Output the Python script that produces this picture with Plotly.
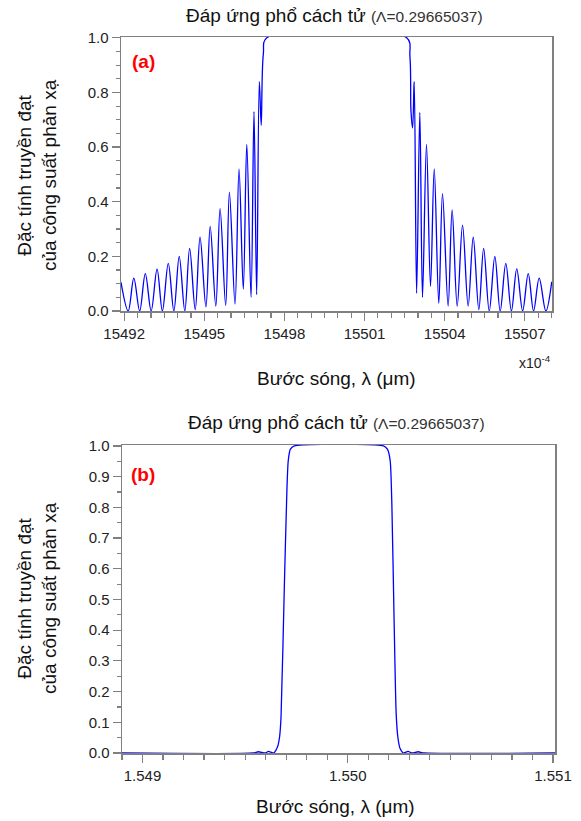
import plotly.graph_objects as go

# ---------------- data ----------------
# Panel (a): wavelength in units of 1e-4 um, reflectance
wl_a = [15491.88, 15492.15, 15492.36, 15492.58, 15492.79, 15493.01, 15493.23, 15493.43,
        15493.65, 15493.86, 15494.06, 15494.27, 15494.45, 15494.66, 15494.84, 15495.06,
        15495.22, 15495.43, 15495.59, 15495.80, 15495.94, 15496.15, 15496.30, 15496.46,
        15496.59, 15496.75, 15496.86, 15496.96, 15497.06, 15497.13, 15497.21, 15497.34,
        15502.58, 15502.70, 15502.74, 15502.80, 15502.86, 15502.95, 15503.07, 15503.17,
        15503.32, 15503.47, 15503.61, 15503.78, 15503.92, 15504.13, 15504.28, 15504.47,
        15504.67, 15504.88, 15505.07, 15505.28, 15505.46, 15505.67, 15505.88, 15506.08,
        15506.29, 15506.50, 15506.70, 15506.92, 15507.13, 15507.33, 15507.54, 15507.79,
        15508.01]
r_a = [0.105, 0.0, 0.12, 0.0, 0.137, 0.0, 0.153, 0.0,
       0.174, 0.0, 0.20, 0.0, 0.229, 0.005, 0.27, 0.015,
       0.31, 0.018, 0.375, 0.02, 0.435, 0.025, 0.52, 0.08,
       0.61, 0.05, 0.73, 0.06, 0.84, 0.68, 0.94, 1.0,
       1.0, 0.93, 0.73, 0.67, 0.84, 0.065, 0.727, 0.05,
       0.61, 0.09, 0.52, 0.028, 0.43, 0.018, 0.37, 0.018,
       0.314, 0.018, 0.27, 0.005, 0.229, 0.0, 0.2, 0.0,
       0.174, 0.0, 0.154, 0.0, 0.137, 0.0, 0.12, 0.0,
       0.107]
ticks_a = [15492, 15495, 15498, 15501, 15504, 15507]

# Panel (b): wavelength in um, reflectance
wl_b = [1.548900, 1.549540, 1.549564, 1.549599, 1.549613, 1.549639,
        1.549658, 1.549668, 1.549675, 1.549691, 1.549704, 1.549710, 1.549720, 1.549740,
        1.550174, 1.550194, 1.550207, 1.550215, 1.550226, 1.550236, 1.550244, 1.550255, 1.550272,
        1.550294, 1.550314, 1.550343, 1.550372, 1.551010]
r_b = [0, 0, 0.004, 0, 0.005, 0,
       0.02, 0.053, 0.118, 0.54, 0.865, 0.951, 0.989, 1.0,
       1.0, 0.989, 0.951, 0.81, 0.43, 0.129, 0.053, 0.015, 0,
       0.005, 0, 0.004, 0, 0]
ticks_b = [1.549, 1.550, 1.551]
ticktext_b = ["1.549", "1.550", "1.551"]

title_txt = 'Đáp ứng phổ cách tử <span style="font-size:15.5px;color:#333">(Λ=0.29665037)</span>'
xtitle_txt = "Bước sóng, λ (μm)"
ytitle_txt = "Đặc tính truyền đạt<br>của công suất phản xạ"

# ---------------- figure ----------------
W, H = 581, 821
FONT = "Liberation Sans, Arial, sans-serif"
AX = "#808080"
BLUE = "#0000ff"

def px(x):
    return x / W

def py(y):
    return 1 - y / H

fig = go.Figure()
fig.add_trace(go.Scatter(x=wl_a, y=r_a, mode="lines", xaxis="x", yaxis="y",
                         line=dict(color=BLUE, width=1.3, shape="spline", smoothing=1.0),
                         showlegend=False, hoverinfo="skip"))
fig.add_trace(go.Scatter(x=wl_b, y=r_b, mode="lines", xaxis="x2", yaxis="y2",
                         line=dict(color=BLUE, width=1.3, shape="spline", smoothing=0.6),
                         showlegend=False, hoverinfo="skip"))

axis_common = dict(showline=True, linecolor=AX, linewidth=1.5, mirror=True,
                   showgrid=False, zeroline=False, ticks="outside", ticklen=8,
                   tickwidth=1.2, tickcolor=AX, automargin=False,
                   tickfont=dict(family=FONT, size=15, color="#222"))

fig.update_layout(
    template="none",
    width=W, height=H, margin=dict(l=0, r=0, t=0, b=0, autoexpand=False),
    paper_bgcolor="white", plot_bgcolor="white",
    xaxis=dict(domain=[px(121), px(552)], anchor="y",
               range=[15491.88, 15508.02], tickmode="array", tickvals=ticks_a,
               ticktext=[str(t) for t in ticks_a],
               minor=dict(dtick=0.5, tick0=15492, ticks="outside", ticklen=5,
                          tickcolor=AX, tickwidth=1.2, showgrid=False),
               **axis_common),
    yaxis=dict(domain=[py(311), py(37)], anchor="x",
               range=[0, 1.003], dtick=0.2, tick0=0, tickformat=".1f",
               minor=dict(dtick=0.05, tick0=0, ticks="outside", ticklen=4,
                          tickcolor=AX, tickwidth=1.2, showgrid=False),
               **axis_common),
    xaxis2=dict(domain=[px(122), px(555)], anchor="y2",
                range=[1.5489, 1.55101], tickmode="array", tickvals=ticks_b,
                ticktext=ticktext_b,
                minor=dict(dtick=0.0001, tick0=1.549, ticks="outside", ticklen=5,
                           tickcolor=AX, tickwidth=1.2, showgrid=False),
                **axis_common),
    yaxis2=dict(domain=[py(753), py(445)], anchor="x2",
                range=[0, 1.003], dtick=0.1, tick0=0, tickformat=".1f",
                minor=dict(dtick=0.05, tick0=0, ticks="outside", ticklen=4,
                           tickcolor=AX, tickwidth=1.2, showgrid=False),
                **axis_common),
)

ann = []
def add(text, x, y, size=19, color="#111", angle=0, xanchor="center", bold=False):
    ann.append(dict(text=("<b>%s</b>" % text) if bold else text,
                    x=px(x), y=py(y), xref="paper", yref="paper",
                    xanchor=xanchor, yanchor="middle", showarrow=False,
                    textangle=angle, font=dict(family=FONT, size=size, color=color)))

add(title_txt, 334, 15)
add(title_txt, 336, 422)
add(xtitle_txt, 336, 378)
add(xtitle_txt, 335, 806)
add(ytitle_txt, 37, 175, angle=-90)
add(ytitle_txt, 37, 598, angle=-90)
add("(a)", 143, 62, size=19, color="#ff0000", bold=True)
add("(b)", 143, 475, size=19, color="#ff0000", bold=True)
add("x10<sup>-4</sup>", 553, 362, size=14, color="#222", xanchor="right")
fig.update_layout(annotations=ann)

fig.write_html("out.html",
               config={"displayModeBar": False, "staticPlot": True},
               post_script="document.body.style.margin='0';document.body.style.overflow='hidden';")
